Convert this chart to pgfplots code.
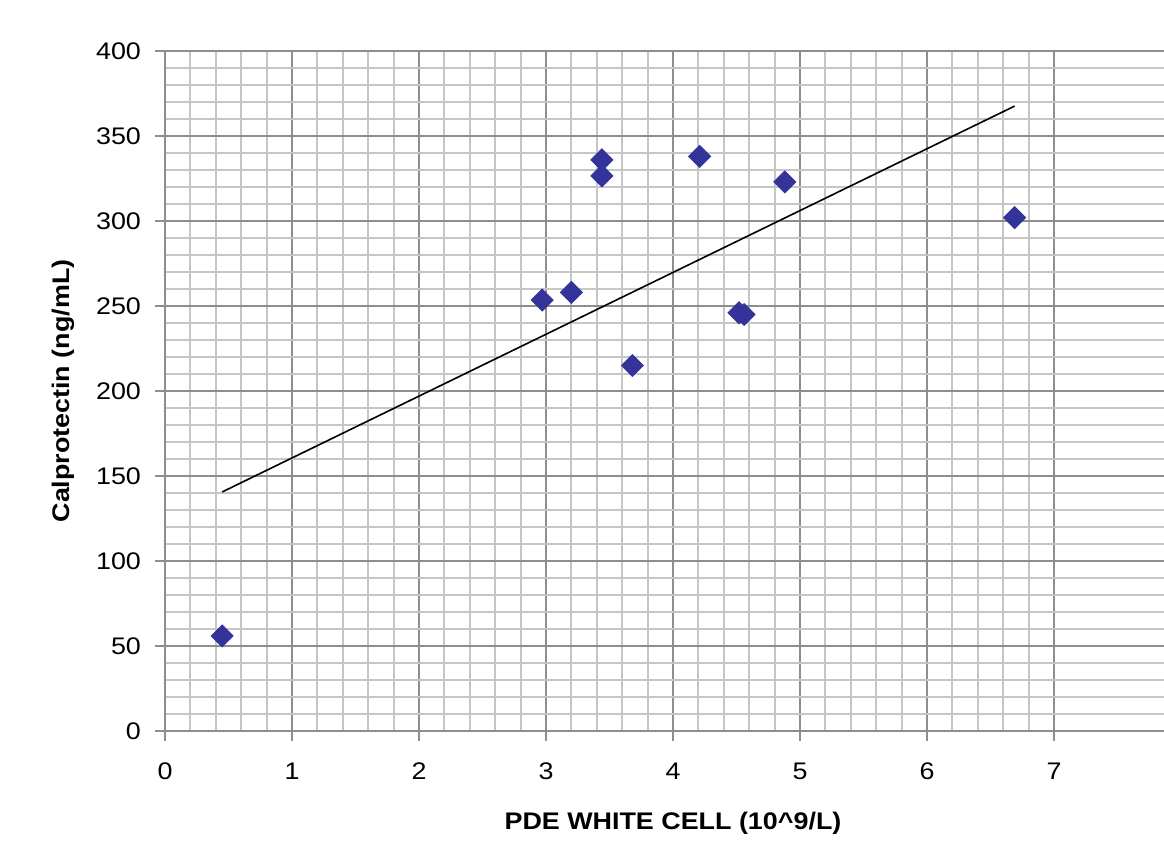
\documentclass[border=0pt]{standalone}
\usepackage{pgfplots}
\pgfplotsset{compat=1.18}
\usepackage{fontspec}
\setmainfont{Liberation Sans}[FakeStretch=1.12]
\definecolor{majgrid}{HTML}{8E8E8E}
\definecolor{mingrid}{HTML}{C6C6C6}
\definecolor{navy}{HTML}{333399}
\begin{document}
\begin{tikzpicture}
\clip (-82.5pt,-60pt) rectangle (499.5pt,365.5pt);
\begin{axis}[
  scale only axis,
  width=508pt, height=340pt,
  xmin=0, xmax=8, ymin=0, ymax=400,
  xtick={0,1,...,7}, ytick={0,50,...,400},
  minor x tick num=4, minor y tick num=4,
  grid=both,
  major grid style={draw=majgrid, line width=1pt},
  minor grid style={draw=mingrid, line width=1pt},
  axis line style={draw=majgrid, line width=1.1pt},
  tick style={draw=majgrid, line width=1pt},
  major tick length=5pt, minor tick length=0pt,
  tick align=outside,
  xtick pos=bottom, ytick pos=left,
  ticklabel style={font=\fontsize{12}{14}\selectfont, text=black},
  /pgf/number format/assume math mode=true,
  xticklabel style={yshift=-7.5pt},
  yticklabel style={xshift=-3.5pt},
  xlabel={\bfseries PDE WHITE CELL (10\textasciicircum 9/L)},
  ylabel={\bfseries Calprotectin (ng/mL)},
  every axis x label/.style={at={(axis description cs:0.5,0)}, anchor=center, yshift=-46pt},
  every axis y label/.style={at={(axis description cs:0,0.5)}, rotate=90, anchor=center, yshift=51pt},
  label style={font=\fontsize{12}{14}\selectfont},
  clip=false,
]
\addplot[only marks, mark=square*, mark size=3.9pt, mark options={rotate=45, draw=navy, fill=navy}] coordinates {
  (0.45,55.9) (2.97,253.5) (3.20,258) (3.44,336) (3.44,326.5)
  (3.68,215) (4.21,338) (4.52,246) (4.56,245) (4.88,323) (6.69,302)
};
\addplot[black, line width=0.8pt] coordinates {(0.45,140.6) (6.69,367.6)};
\end{axis}
\end{tikzpicture}
\end{document}
